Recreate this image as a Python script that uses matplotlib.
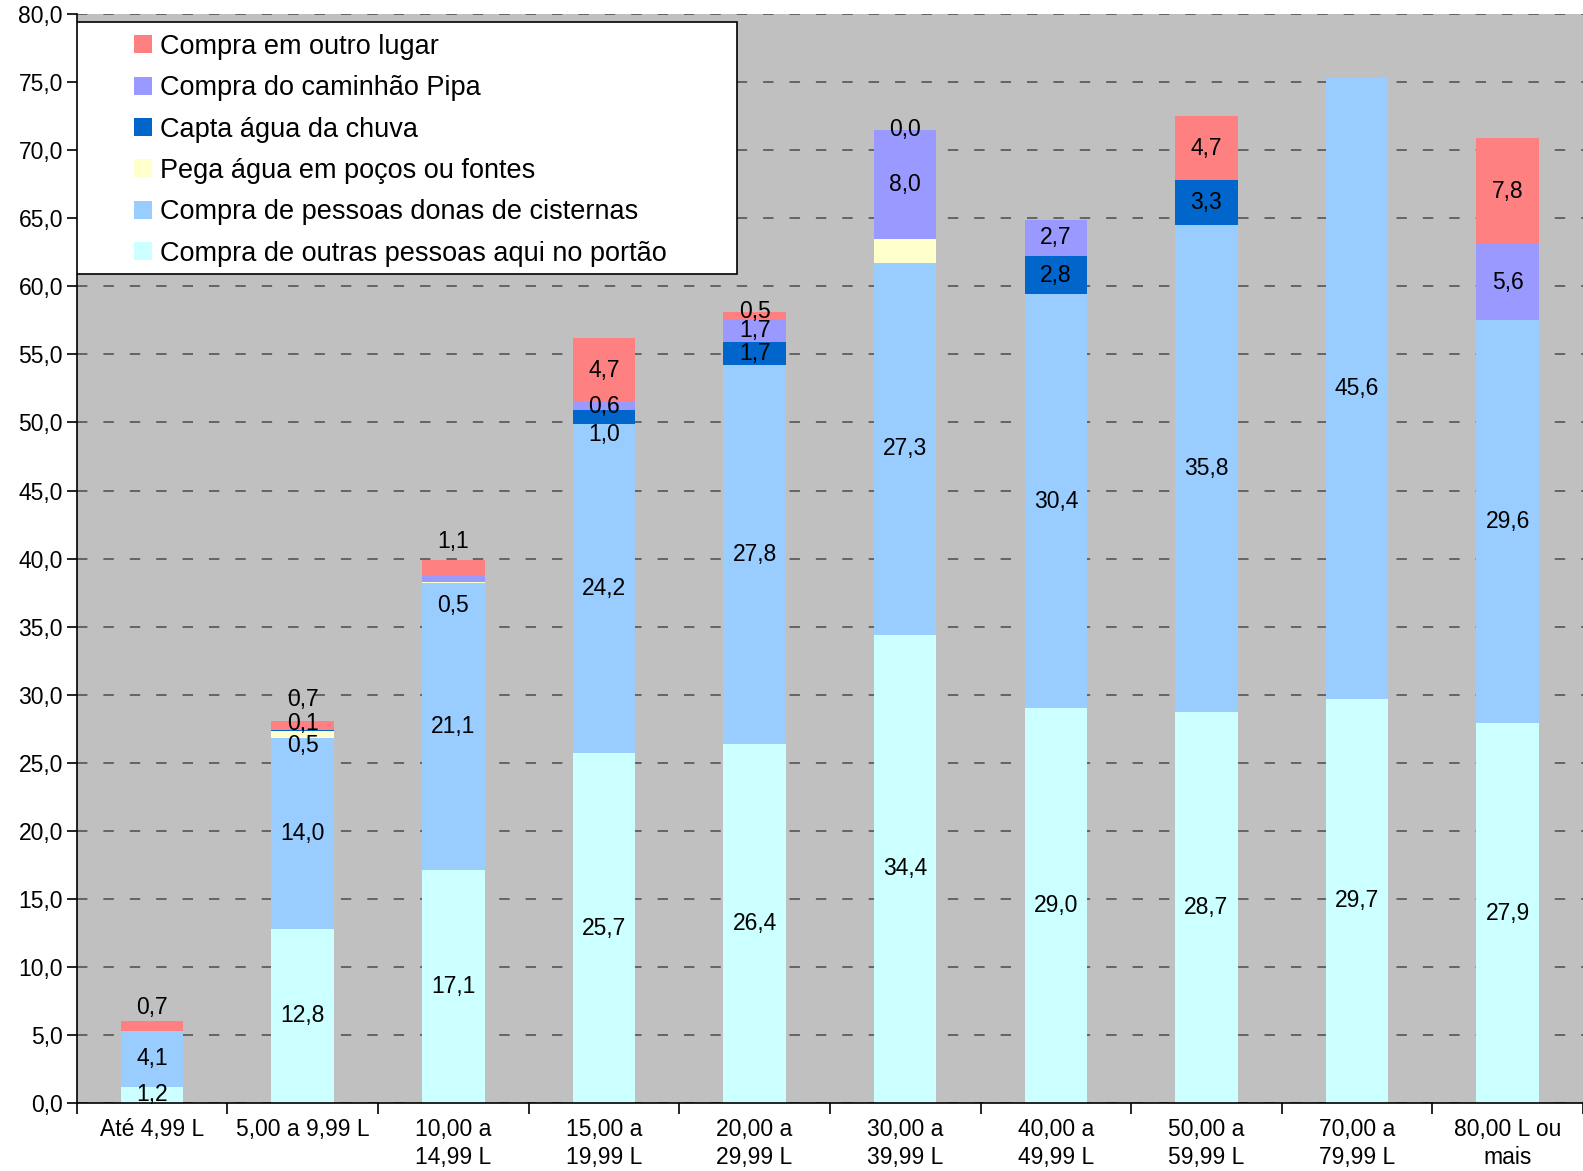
import numpy as np
import matplotlib
matplotlib.use('Agg')
import matplotlib.pyplot as plt
from matplotlib.patches import Rectangle, Patch

plt.rcParams['font.family'] = ['Liberation Sans', 'DejaVu Sans']
plt.rcParams['lines.scale_dashes'] = False

# ---- data ----
categories = ['Até 4,99 L', '5,00 a 9,99 L', '10,00 a\n14,99 L', '15,00 a\n19,99 L',
              '20,00 a\n29,99 L', '30,00 a\n39,99 L', '40,00 a\n49,99 L',
              '50,00 a\n59,99 L', '70,00 a\n79,99 L', '80,00 L ou\nmais']

# stack order bottom -> top
series_names = ['Compra de outras pessoas aqui no portão',
                'Compra de pessoas donas de cisternas',
                'Pega água em poços ou fontes',
                'Capta água da chuva',
                'Compra do caminhão Pipa',
                'Compra em outro lugar']

portao    = [1.2, 12.8, 17.1, 25.7, 26.4, 34.4, 29.0, 28.7, 29.7, 27.9]
cisternas = [4.1, 14.0, 21.1, 24.2, 27.8, 27.3, 30.4, 35.8, 45.6, 29.6]
pocos     = [0.0, 0.5, 0.1, 0.0, 0.0, 1.8, 0.0, 0.0, 0.0, 0.0]
chuva     = [0.0, 0.1, 0.0, 1.0, 1.7, 0.0, 2.8, 3.3, 0.0, 0.0]
pipa      = [0.0, 0.0, 0.5, 0.6, 1.7, 8.0, 2.7, 0.0, 0.0, 5.6]
outro     = [0.7, 0.7, 1.1, 4.7, 0.5, 0.0, 0.0, 4.7, 0.0, 7.8]

series = [portao, cisternas, pocos, chuva, pipa, outro]
colors = ['#CCFFFF', '#99CCFF', '#FFFFCC', '#0066CC', '#9999FF', '#FF8080']

# which labels are printed (cat index, series index); zeros skipped except below
show_zero = {(5, 5)}
hide_label = {(2, 2), (5, 2)}
# excel moves labels of thin segments
label_nudge = {(0, 5): 1.4, (1, 5): 1.9, (1, 3): 0.5, (1, 2): -0.75,
               (2, 4): -2.0, (2, 5): 1.9, (3, 3): -1.3, (4, 5): 0.3}

# ---- plot ----
fig = plt.figure(figsize=(15.83, 11.71), dpi=100)
ax = fig.add_axes([0.0485, 0.058, 0.9515, 0.930])
ax.set_facecolor('#C0C0C0')

x = np.arange(len(categories))
bottom = np.zeros(len(categories))
for si, (vals, col) in enumerate(zip(series, colors)):
    vals = np.array(vals)
    ax.bar(x, vals, 0.415, bottom=bottom, color=col, zorder=2)
    for ci, v in enumerate(vals):
        if (ci, si) in hide_label:
            continue
        if v == 0 and (ci, si) not in show_zero:
            continue
        y = bottom[ci] + v / 2 + label_nudge.get((ci, si), 0)
        ax.text(x[ci], y, ('%.1f' % v).replace('.', ','), ha='center', va='center',
                fontsize=16.5, color='black', zorder=4)
    bottom += vals

ax.set_ylim(0, 80)
ax.set_xlim(-0.5, len(categories) - 0.5)
ax.set_yticks(np.arange(0, 81, 5))
ax.set_yticklabels([('%.1f' % t).replace('.', ',') for t in np.arange(0, 81, 5)], fontsize=16.5)
ax.yaxis.grid(True, color='#555555', linestyle=(0, (7.5, 11.5)), linewidth=1.2, zorder=1)
ax.set_axisbelow(True)

ax.set_xticks(x)
ax.set_xticklabels(categories, fontsize=16.5, linespacing=1.25)
ax.set_xticks(np.arange(-0.5, len(categories)), minor=True)
ax.tick_params(axis='x', which='major', length=0, pad=11)
ax.tick_params(axis='x', which='minor', length=8, width=1.2, direction='out')
ax.tick_params(axis='y', length=7, width=1.2, direction='out', pad=3)

for s in ['top', 'right']:
    ax.spines[s].set_visible(False)
ax.spines['left'].set_linewidth(1.2)
ax.spines['bottom'].set_linewidth(1.2)

# legend box
ax.add_patch(Rectangle((0, 0.7615), 0.438, 0.2311, transform=ax.transAxes,
                       facecolor='white', edgecolor='black', linewidth=1.2, zorder=5))
handles = [Patch(facecolor=c, edgecolor='none') for c in colors][::-1]
leg = ax.legend(handles, series_names[::-1], loc='upper left',
                bbox_to_anchor=(0.038, 0.982), frameon=False, fontsize=19.5,
                handlelength=0.65, handleheight=0.65, handletextpad=0.3,
                labelspacing=0.57, borderaxespad=0, borderpad=0)
leg.set_zorder(6)

fig.savefig('out.png', dpi=100)
